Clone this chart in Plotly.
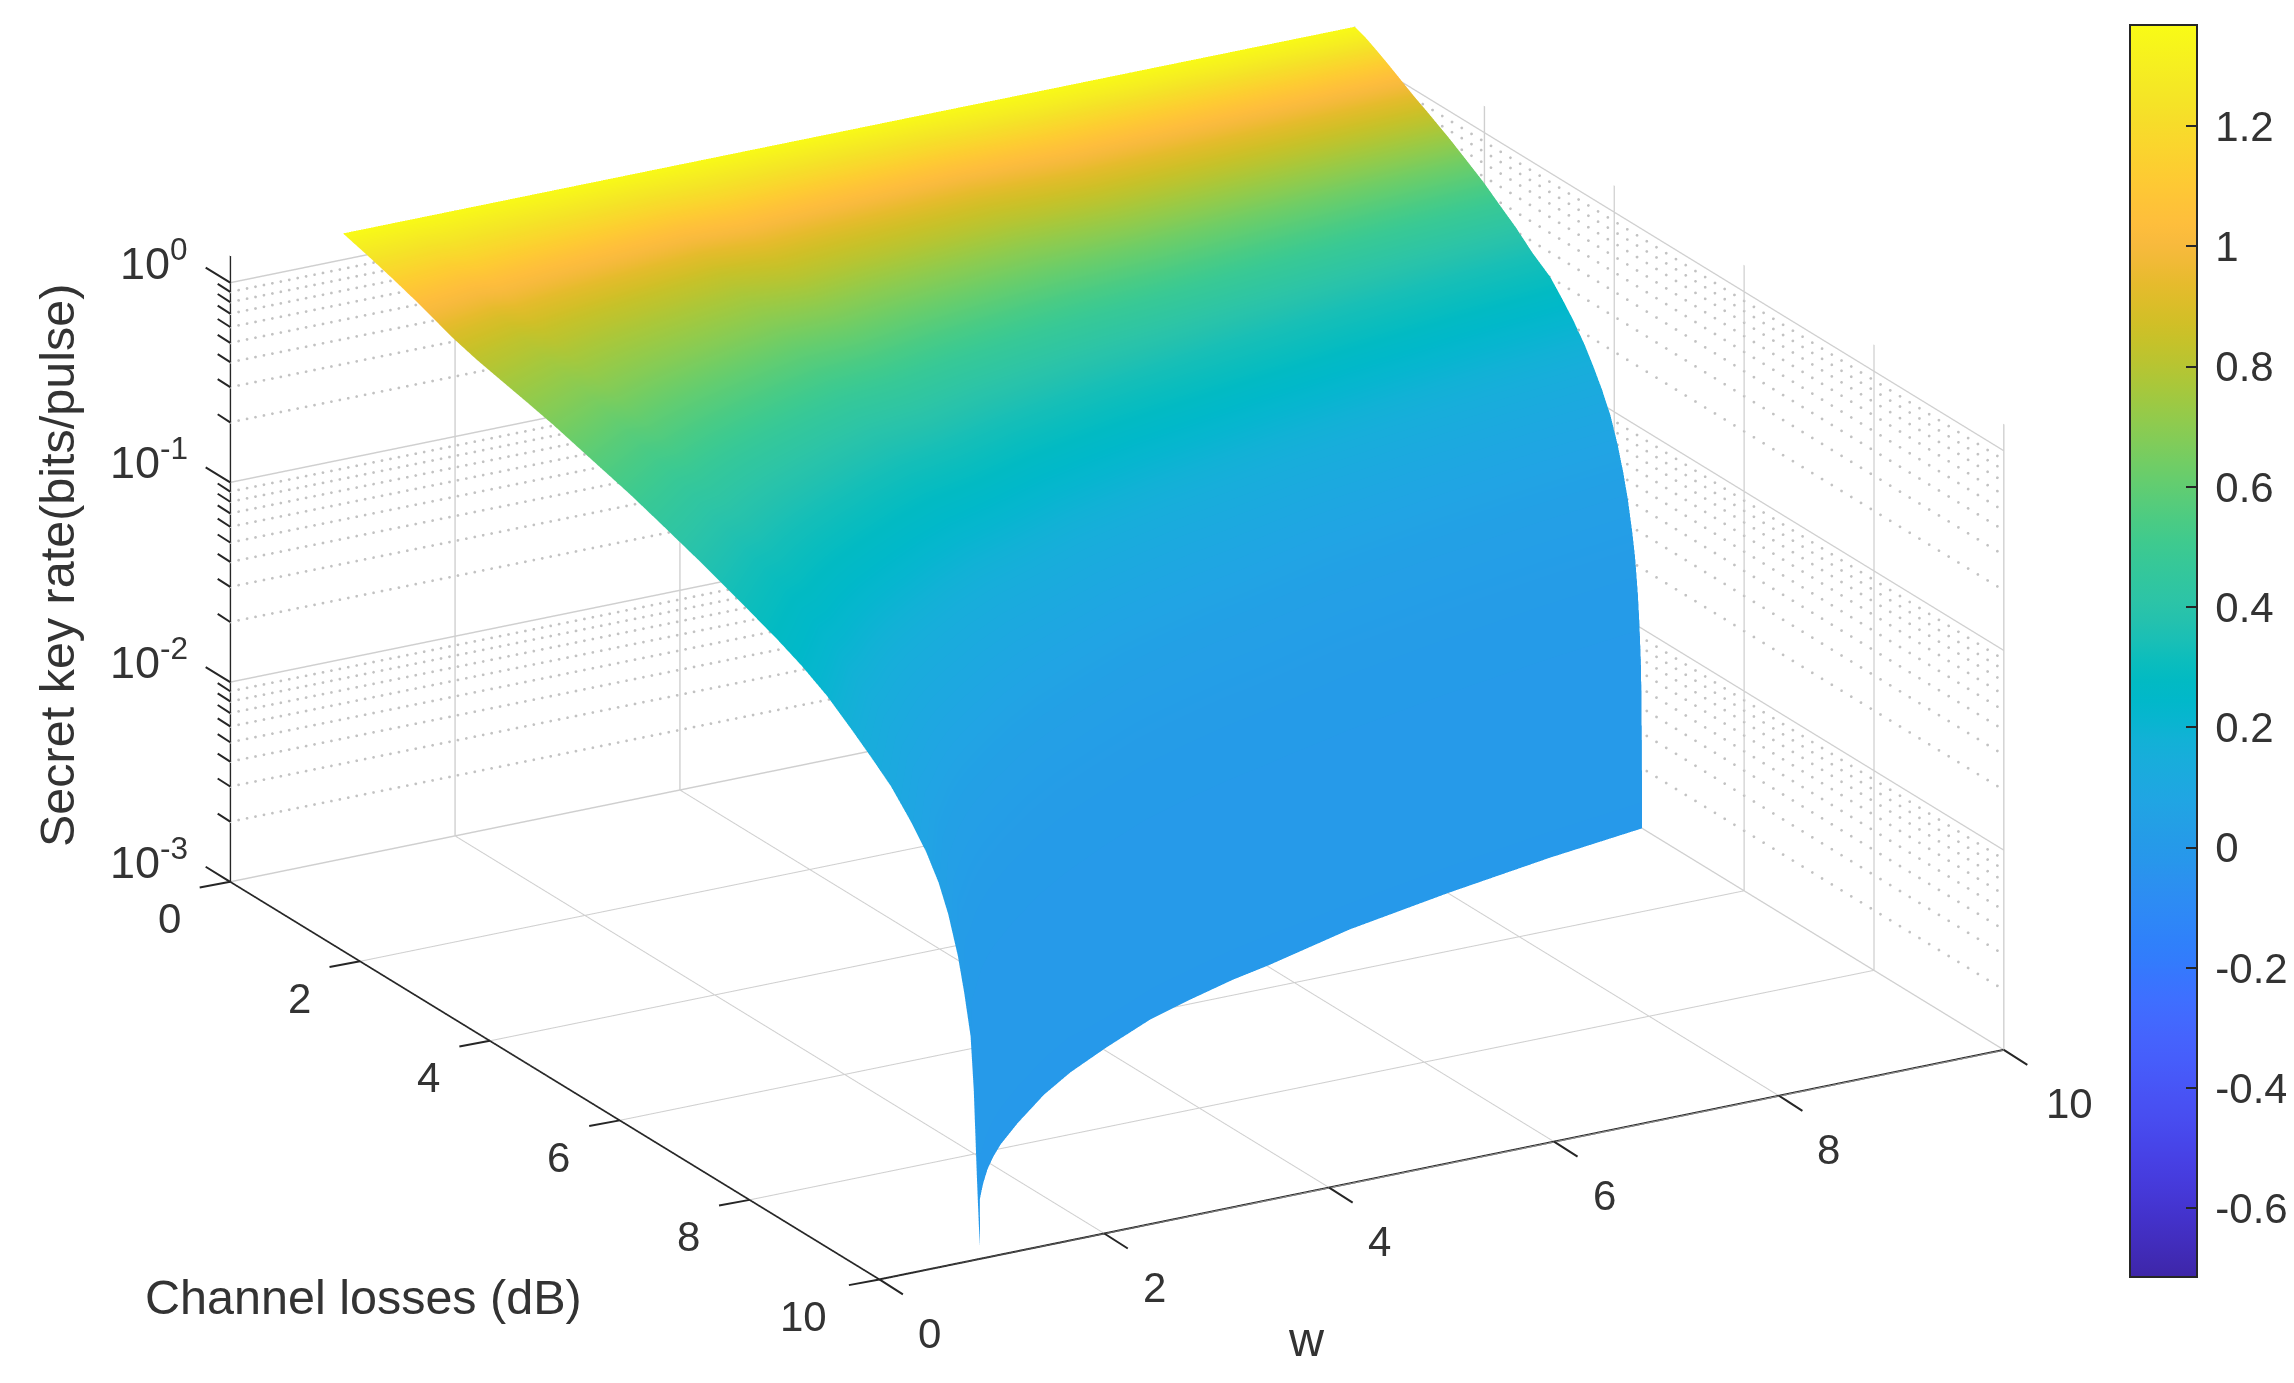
import numpy as np
import plotly.graph_objects as go

w_values = [1, 1.27, 1.54, 1.73, 1.92, 2.1, 2.28, 2.63, 3.11, 3.53, 4.04, 4.64, 5.12, 5.62, 6.03, 6.95, 8.01, 9.06, 10]
cutoff_loss = [9.82, 9.35, 8.88, 8.6, 8.34, 8.12, 7.92, 7.58, 7.15, 6.83, 6.5, 6.14, 5.92, 5.71, 5.57, 5.21, 4.9, 4.63, 4.43]
loss_fraction = [0, .04, .08, .12, .17, .21, .25, .29, .33, .39, .45, .5, .56, .62, .68, .72,
                 .76, .8, .83, .86, .89, .915, .935, .95, .965, .975, .985, .99, .995, .998, 1]
rate_w1 = [1.36, 1.25, 1.14, 1.03, .89, .815, .76, .71, .66, .58, .51, .45, .385, .325, .272, .237,
           .2, .16, .134, .111, .086, .067, .051, .038, .0252, .0172, .0109, .006, .0022, .0013, .001]
rate_w2 = [1.36, 1.26, 1.16, 1.05, .92, .84, .78, .73, .68, .60, .525, .46, .395, .335, .28, .245,
           .205, .165, .137, .113, .09, .07, .052, .04, .028, .02, .013, .0085, .005, .0026, .001]
rate_w5 = [1.36, 1.27, 1.18, 1.08, .96, .88, .82, .76, .70, .62, .54, .475, .41, .345, .29, .25,
           .21, .17, .141, .116, .092, .071, .052, .04, .029, .021, .0135, .0095, .006, .0035, .001]
rate_w10 = [1.36, 1.29, 1.2, 1.11, 1.0, .92, .855, .79, .73, .64, .56, .49, .42, .35, .302, .257,
            .216, .176, .146, .119, .0933, .07, .0525, .0403, .0288, .0219, .0145, .0107, .0071, .0044, .001]
row_of_w = [rate_w1] * 3 + [rate_w2] * 7 + [rate_w5] * 5 + [rate_w10] * 4
tick_xy = [0, 2, 4, 6, 8, 10]
tick_rate = [0.001, 0.01, 0.1, 1]
tick_rate_text = ["10<sup>-3</sup>", "10<sup>-2</sup>", "10<sup>-1</sup>", "10<sup>0</sup>"]
minor_mult = [2, 3, 4, 5, 6, 7, 8, 9]
colorbar_ticks = [-0.6, -0.4, -0.2, 0, 0.2, 0.4, 0.6, 0.8, 1, 1.2]
parula = [
    (0.2422, 0.1504, 0.6603), (0.2504, 0.1650, 0.7076), (0.2578, 0.1818, 0.7511), (0.2647, 0.1978, 0.7952),
    (0.2706, 0.2147, 0.8364), (0.2751, 0.2342, 0.8710), (0.2783, 0.2559, 0.8991), (0.2803, 0.2782, 0.9221),
    (0.2813, 0.3006, 0.9414), (0.2810, 0.3228, 0.9579), (0.2795, 0.3447, 0.9717), (0.2760, 0.3667, 0.9829),
    (0.2699, 0.3892, 0.9906), (0.2602, 0.4123, 0.9952), (0.2440, 0.4358, 0.9988), (0.2206, 0.4603, 0.9973),
    (0.1963, 0.4847, 0.9892), (0.1834, 0.5074, 0.9798), (0.1786, 0.5289, 0.9682), (0.1764, 0.5499, 0.9520),
    (0.1687, 0.5703, 0.9359), (0.1540, 0.5902, 0.9218), (0.1460, 0.6091, 0.9079), (0.1380, 0.6276, 0.8973),
    (0.1248, 0.6459, 0.8883), (0.1113, 0.6635, 0.8763), (0.0952, 0.6798, 0.8598), (0.0689, 0.6948, 0.8394),
    (0.0297, 0.7082, 0.8163), (0.0036, 0.7203, 0.7917), (0.0067, 0.7312, 0.7660), (0.0433, 0.7411, 0.7394),
    (0.0964, 0.7500, 0.7120), (0.1408, 0.7584, 0.6842), (0.1717, 0.7670, 0.6554), (0.1938, 0.7758, 0.6251),
    (0.2161, 0.7843, 0.5923), (0.2470, 0.7918, 0.5567), (0.2906, 0.7973, 0.5188), (0.3406, 0.8008, 0.4789),
    (0.3909, 0.8029, 0.4354), (0.4456, 0.8024, 0.3909), (0.5044, 0.7993, 0.3480), (0.5616, 0.7942, 0.3045),
    (0.6174, 0.7876, 0.2612), (0.6720, 0.7793, 0.2227), (0.7242, 0.7698, 0.1910), (0.7738, 0.7598, 0.1646),
    (0.8203, 0.7498, 0.1535), (0.8634, 0.7406, 0.1596), (0.9035, 0.7330, 0.1774), (0.9393, 0.7288, 0.2100),
    (0.9728, 0.7298, 0.2394), (0.9956, 0.7434, 0.2371), (0.9970, 0.7659, 0.2199), (0.9952, 0.7893, 0.2028),
    (0.9892, 0.8136, 0.1885), (0.9786, 0.8386, 0.1766), (0.9676, 0.8639, 0.1643), (0.9610, 0.8890, 0.1537),
    (0.9597, 0.9135, 0.1423), (0.9628, 0.9373, 0.1265), (0.9691, 0.9606, 0.1064), (0.9769, 0.9839, 0.0805),
]

FONT = "Liberation Sans"
INK = "#333333"
AXIS_INK = "#262626"
W, H = 2286, 1367

colorscale = [[i / (len(parula) - 1), "rgb(%d,%d,%d)" % tuple(round(c * 255) for c in rgb)]
              for i, rgb in enumerate(parula)]

rates = np.array(row_of_w)
xs = np.outer(w_values, np.ones(len(loss_fraction)))
ys = np.outer(cutoff_loss, loss_fraction)

fig = go.Figure()
fig.add_trace(go.Surface(
    x=xs, y=ys, z=rates, surfacecolor=rates,
    cmin=-0.714, cmax=1.368, colorscale=colorscale,
    lighting=dict(ambient=1, diffuse=0, specular=0, roughness=1, fresnel=0),
    hoverinfo="skip",
    colorbar=dict(
        x=(2130 - 8) / W, xanchor="left", xpad=0,
        y=1 - (25 - 8) / H, yanchor="top", ypad=0,
        thicknessmode="pixels", thickness=67, lenmode="pixels", len=1252,
        outlinecolor=AXIS_INK, outlinewidth=2,
        ticks="inside", ticklen=12, tickwidth=2, tickcolor=AXIS_INK,
        tickvals=colorbar_ticks, ticktext=["\u2009%g" % v for v in colorbar_ticks],
        tickfont=dict(family=FONT, size=42, color=INK),
    ),
))

# dotted minor grid on the two back walls, drawn as small dots
along_w = np.arange(0, 10.01, 0.075)
along_loss = np.arange(0, 10.01, 0.15)
wall_x, wall_y, wall_z = [], [], []
for decade in tick_rate[:-1]:
    for m in minor_mult:
        wall_x += list(along_w) + [10] * len(along_loss)
        wall_y += [0] * len(along_w) + list(along_loss)
        wall_z += [decade * m] * (len(along_w) + len(along_loss))
fig.add_trace(go.Scatter3d(
    x=wall_x, y=wall_y, z=wall_z, mode="markers",
    marker=dict(color="#c2c2c2", size=1.6, line=dict(width=0)),
    hoverinfo="skip", showlegend=False,
))

axis_common = dict(
    showbackground=False, showgrid=True, gridcolor="#cfcfcf", gridwidth=3,
    zeroline=False, showspikes=False, showline=True, linecolor=AXIS_INK, linewidth=4,
    ticks="", showticklabels=False, title=dict(text=""),
)


def tick_mark(x, y, z, ax, ay):
    return dict(x=x, y=y, z=z, text=" ", showarrow=True, arrowhead=0, arrowwidth=2,
                arrowcolor=AXIS_INK, ax=ax, ay=ay, standoff=0, font=dict(size=1))


annots = []
for v in tick_xy:
    annots.append(tick_mark(v, 10, -3, 25, 16))
    annots.append(tick_mark(0, v, -3, -32, 6))
    annots.append(dict(x=v, y=10, z=-3, text=str(v), showarrow=False,
                       xshift=66 if v == 10 else 50, yshift=-54,
                       font=dict(family=FONT, size=42, color=INK)))
    annots.append(dict(x=0, y=v, z=-3, text=str(v), showarrow=False,
                       xshift=-76 if v == 10 else -61, yshift=-37,
                       font=dict(family=FONT, size=42, color=INK)))
for v, t in zip(tick_rate, tick_rate_text):
    annots.append(tick_mark(0, 0, np.log10(v), -26, -16))
    annots.append(dict(x=0, y=0, z=np.log10(v), text=t, showarrow=False,
                       xanchor="right", xshift=-40, yshift=23,
                       font=dict(family=FONT, size=45, color=INK)))
for decade in tick_rate[:-1]:
    for m in minor_mult:
        annots.append(tick_mark(0, 0, np.log10(decade * m), -14, -9))

eye = np.array([-0.5, -0.866, 0.378]) * 2.0

fig.update_layout(
    width=W, height=H, margin=dict(l=0, r=0, t=0, b=0, autoexpand=False),
    paper_bgcolor="white", font=dict(family=FONT, color=INK),
    scene=dict(
        domain=dict(x=[0, 2218 / W], y=[1 - 1290 / H, 1]),
        aspectmode="manual", aspectratio=dict(x=2.013, y=2.013, z=1.037),
        camera=dict(projection=dict(type="orthographic"),
                    eye=dict(x=eye[0], y=eye[1], z=eye[2]),
                    center=dict(x=0, y=0, z=0), up=dict(x=0, y=0, z=1)),
        xaxis=dict(range=[0, 10], tickvals=tick_xy, **axis_common),
        yaxis=dict(range=[10, 0], tickvals=tick_xy, **axis_common),
        zaxis=dict(type="log", range=[-3, 0.133], tickvals=tick_rate, **axis_common),
        annotations=annots,
    ),
    annotations=[
        dict(text="Secret key rate(bits/pulse)", textangle=-90, showarrow=False,
             xref="paper", yref="paper", x=(57 - 8) / W, y=1 - (566 - 8) / H,
             xanchor="center", yanchor="middle",
             font=dict(family=FONT, size=48.5, color=INK)),
        dict(text="Channel losses (dB)", showarrow=False,
             xref="paper", yref="paper", x=(363 - 8) / W, y=1 - (1297 - 8) / H,
             xanchor="center", yanchor="middle",
             font=dict(family=FONT, size=48.5, color=INK)),
        dict(text="w", showarrow=False,
             xref="paper", yref="paper", x=(1306 - 8) / W, y=1 - (1339 - 8) / H,
             xanchor="center", yanchor="middle",
             font=dict(family=FONT, size=48.5, color=INK)),
    ],
)

fig.write_html("out.html")
